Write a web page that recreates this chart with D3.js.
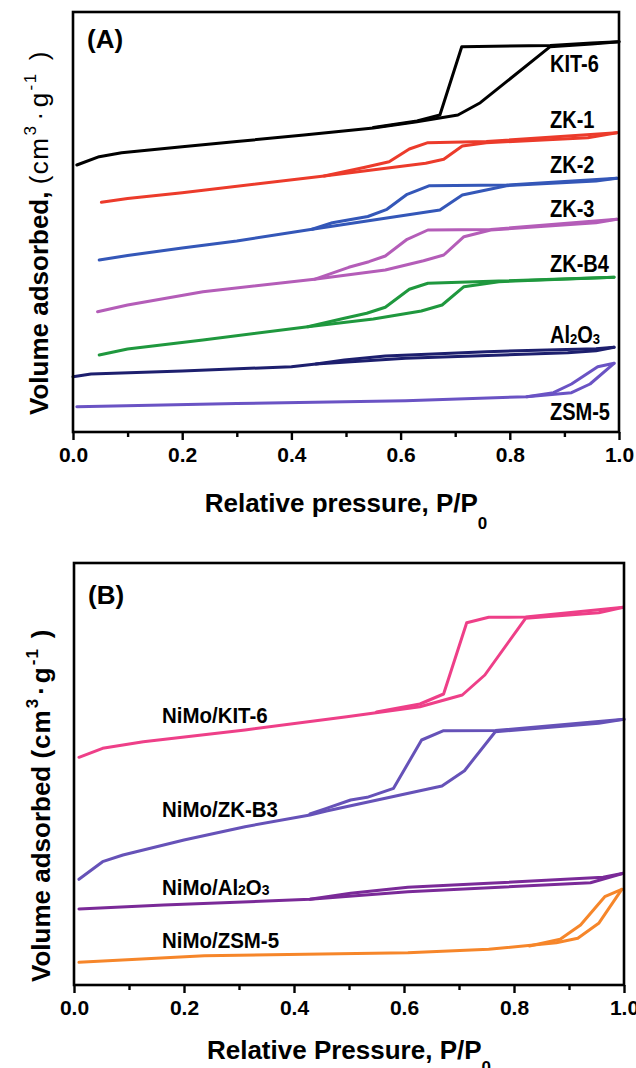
<!DOCTYPE html>
<html><head><meta charset="utf-8">
<script src="https://cdn.jsdelivr.net/npm/d3@7"></script>
<style>
html,body{margin:0;padding:0;background:#fff;}
svg text{font-family:"Liberation Sans",Arial,sans-serif;font-weight:bold;fill:#000;}
</style>
</head><body>
<svg id="chart" width="636" height="1068"></svg>
<script>
// ---------- data (relative pressure P/P0, adsorbed volume in arbitrary units) ----------
const xTicks = [0.0, 0.2, 0.4, 0.6, 0.8, 1.0];
const xMinorTicks = [0.1, 0.3, 0.5, 0.7, 0.9];

// Panel A
const kit6Ads = [[0.007,267],[0.048,275.3],[0.089,279.3],[0.2,285.2],[0.3,290.5],[0.423,297],[0.55,304],[0.63,310.3],[0.705,317],[0.746,329.3],[0.874,385.3],[0.95,388],[1.0,390.3]];
const kit6Des = [[1.0,390.3],[0.95,389],[0.874,386.5],[0.712,385.3],[0.672,317],[0.63,311],[0.55,304.5]];
const zk1Ads = [[0.052,229.7],[0.1,233.5],[0.2,239.2],[0.46,256],[0.646,268.7],[0.679,272.7],[0.713,286],[0.757,289.3],[0.943,294.3],[0.996,299.3]];
const zk1Des = [[0.996,299.3],[0.757,290.5],[0.65,289.3],[0.616,283],[0.579,270.3],[0.535,264.7],[0.46,256]];
const zk2Ads = [[0.048,172],[0.1,176.5],[0.2,184],[0.3,191],[0.438,202.7],[0.672,222],[0.713,237],[0.794,246.3],[0.958,251],[0.996,253.7]];
const zk2Des = [[0.996,253.7],[0.794,247],[0.653,246.3],[0.612,237.7],[0.575,222.7],[0.54,215.5],[0.475,209.3],[0.438,202.7]];
const zk3Ads = [[0.045,120.3],[0.1,127],[0.238,140.3],[0.442,152.7],[0.572,162],[0.642,171.3],[0.679,177],[0.716,195.3],[0.765,202],[0.958,209.3],[0.996,212.7]];
const zk3Des = [[0.996,212.7],[0.765,202.5],[0.65,202],[0.612,192.7],[0.572,176],[0.542,170.3],[0.505,164.7],[0.442,152.7]];
const zkb4Ads = [[0.048,77],[0.1,83],[0.238,92],[0.43,105.3],[0.55,113],[0.638,121],[0.676,127],[0.716,145.3],[0.78,150.3],[0.991,154.7]];
const zkb4Des = [[0.991,154.7],[0.78,151],[0.65,148.7],[0.616,142.7],[0.572,124.7],[0.538,118.7],[0.497,113.7],[0.43,105.3]];
const al2o3Ads = [[0,55.3],[0.033,58],[0.2,61],[0.4,65.3],[0.445,68],[0.609,73.7],[0.906,79.3],[0.958,81.3],[0.991,84.7]];
const al2o3Des = [[0.991,84.7],[0.958,83.3],[0.757,80.3],[0.572,76],[0.497,72],[0.445,68]];
const zsm5Ads = [[0.007,25.3],[0.3,28.5],[0.609,31.3],[0.831,35.3],[0.913,39.3],[0.947,48],[0.991,68.7]];
const zsm5Des = [[0.991,68.7],[0.961,65.3],[0.913,48],[0.88,39.3],[0.831,35.3]];

// Panel B
const nKitAds = [[0.009,227.7],[0.052,236.7],[0.126,243.3],[0.311,255],[0.496,268.3],[0.629,278.3],[0.706,290],[0.747,310],[0.821,366.7],[0.954,372.3],[0.999,377.7]];
const nKitDes = [[0.999,377.7],[0.821,368],[0.754,367.7],[0.714,362.3],[0.672,291],[0.629,281],[0.55,273]];
const nZkAds = [[0.009,105.7],[0.052,123.3],[0.089,130],[0.2,145],[0.311,158.3],[0.429,170],[0.459,174],[0.669,199],[0.71,214.3],[0.766,253.3],[0.954,261.7],[1.0,265.7]];
const nZkDes = [[1.0,265.7],[0.766,254.5],[0.672,254.3],[0.632,245],[0.581,196.7],[0.533,187.7],[0.503,185],[0.459,176.7],[0.429,171]];
const nAlAds = [[0.009,76],[0.163,80],[0.429,85.7],[0.607,93.3],[0.939,102.3],[0.999,111.7]];
const nAlDes = [[0.999,111.7],[0.962,107.7],[0.754,101.7],[0.607,97.7],[0.503,91.7],[0.429,85.7]];
const nZsmAds = [[0.009,22.7],[0.237,29.3],[0.607,32.3],[0.754,35.7],[0.877,42.3],[0.916,46.7],[0.954,61.7],[0.996,95.7]];
const nZsmDes = [[0.996,95.7],[0.965,88.3],[0.921,60],[0.884,45.7],[0.828,39]];

const namesA = ["KIT-6","ZK-1","ZK-2","ZK-3","ZK-B4","Al2O3","ZSM-5"];
const colorsA = ["#000000","#ec3b2b","#3457b8","#b45db8","#1f983e","#1d1f6e","#6a53c4"];
const namesB = ["NiMo/KIT-6","NiMo/ZK-B3","NiMo/Al2O3","NiMo/ZSM-5"];
const colorsB = ["#ee3f88","#6652b8","#7a2a98","#f6862a"];

// ---------- drawing ----------
const svg = d3.select("#chart");
svg.append("rect").attr("width",636).attr("height",1068).attr("fill","#fff");

function panel(cfg){
  const x = d3.scaleLinear().domain([0,1]).range([cfg.left, cfg.right]);
  const y = d3.scaleLinear().domain([0, cfg.ymax]).range([cfg.bottom, cfg.top]);
  const g = svg.append("g");
  const line = d3.line().x(d=>x(d[0])).y(d=>y(d[1]));
  cfg.series.forEach((s,i)=>{
    [s.ads, s.des].forEach(arr=>{
      g.append("path").attr("d", line(arr)).attr("fill","none")
        .attr("stroke", cfg.colors[i]).attr("stroke-width", 3)
        .attr("stroke-linejoin","round").attr("stroke-linecap","round");
    });
  });
  g.append("rect").attr("x",cfg.left).attr("y",cfg.top)
    .attr("width",cfg.right-cfg.left).attr("height",cfg.bottom-cfg.top)
    .attr("fill","none").attr("stroke","#000").attr("stroke-width",2.6);
  const ax = g.append("g").attr("transform",`translate(0,${cfg.bottom})`)
    .call(d3.axisBottom(x).tickValues(xTicks).tickSize(8).tickFormat(d3.format(".1f")));
  ax.select(".domain").remove();
  ax.selectAll(".tick line").attr("stroke","#000").attr("stroke-width",2.4);
  ax.selectAll(".tick text").attr("y",24).attr("dy",0).attr("dominant-baseline","middle")
    .style("font-size","21px");
  const axm = g.append("g").attr("transform",`translate(0,${cfg.bottom})`)
    .call(d3.axisBottom(x).tickValues(xMinorTicks).tickSize(5).tickFormat(""));
  axm.select(".domain").remove();
  axm.selectAll(".tick line").attr("stroke","#000").attr("stroke-width",2.4);
  return {x,y,g};
}

function chemText(sel, parts, subSize){
  parts.forEach(p=>{
    const t = sel.append("tspan").text(p.t);
    if(p.sub){ t.style("font-size",subSize+"px").attr("dy", p.dy||0); }
    else if(p.dy){ t.attr("dy", p.dy); }
  });
}

// Panel A
const A = panel({left:73,right:619,top:12,bottom:432,ymax:420,colors:colorsA,series:[
  {ads:kit6Ads,des:kit6Des},{ads:zk1Ads,des:zk1Des},{ads:zk2Ads,des:zk2Des},{ads:zk3Ads,des:zk3Des},
  {ads:zkb4Ads,des:zkb4Des},{ads:al2o3Ads,des:al2o3Des},{ads:zsm5Ads,des:zsm5Des}]});

const labelYA = [72,128,173,217,272,343,420];
namesA.forEach((n,i)=>{
  const t = A.g.append("text").attr("x",550).attr("y",labelYA[i]).style("font-size","23px");
  if(n==="Al2O3"){
    chemText(t,[{t:"Al"},{t:"2",sub:true,dy:1},{t:"O",dy:-1},{t:"3",sub:true,dy:1}],15);
  } else t.text(n);
  t.attr("transform",`translate(550,${labelYA[i]}) scale(0.87,1) translate(-550,${-labelYA[i]})`);
});
A.g.append("text").attr("x",87).attr("y",48).style("font-size","26px").text("(A)");

const xtA = svg.append("text").attr("x",346).attr("y",512).attr("text-anchor","middle").style("font-size","26px");
xtA.append("tspan").text("Relative pressure, P/P");
xtA.append("tspan").text("0").style("font-size","17px").attr("dy",17);

const ytA = svg.append("text").attr("transform","translate(48,415) rotate(-90)").attr("text-anchor","start").style("font-size","26px");
ytA.append("tspan").text("Volume adsorbed, ");
const uA = [["(cm",0,0,false],["3",-12,1,true],["\u00B7",12,4,false],["g",0,3,false],["-1",-12,1,true],[")",12,12,false]];
uA.forEach(u=>{
  const t = ytA.append("tspan").text(u[0]).style("font-weight","normal").attr("dy",u[1]).attr("dx",u[2])
    .style("letter-spacing","1.5px");
  if(u[3]) t.style("font-size","17px");
});

// Panel B
const B = panel({left:74,right:624,top:563,bottom:985,ymax:422,colors:colorsB,series:[
  {ads:nKitAds,des:nKitDes},{ads:nZkAds,des:nZkDes},{ads:nAlAds,des:nAlDes},{ads:nZsmAds,des:nZsmDes}]});

const labelYB = [723,817,895,948];
namesB.forEach((n,i)=>{
  const t = B.g.append("text").attr("x",162).attr("y",labelYB[i]).style("font-size","22px");
  if(n==="NiMo/Al2O3"){
    chemText(t,[{t:"NiMo/Al"},{t:"2",sub:true,dy:0},{t:"O",dy:0},{t:"3",sub:true,dy:0}],15);
  } else t.text(n);
  t.attr("transform",`translate(162,${labelYB[i]}) scale(0.93,1) translate(-162,${-labelYB[i]})`);
});
B.g.append("text").attr("x",88).attr("y",604).style("font-size","26px").text("(B)");

const xtB = svg.append("text").attr("x",349).attr("y",1059).attr("text-anchor","middle").style("font-size","26px");
xtB.append("tspan").text("Relative Pressure, P/P");
xtB.append("tspan").text("0").style("font-size","17px").attr("dy",14);

const ytB = svg.append("text").attr("transform","translate(50,982) rotate(-90)").attr("text-anchor","start").style("font-size","26px");
ytB.append("tspan").text("Volume adsorbed ");
const uB = [["(cm",0,0,false],["3",-12,1,true],["\u00B7",12,3,false],["g",0,2,false],["-1",-12,1,true],[")",12,10,false]];
uB.forEach(u=>{
  const t = ytB.append("tspan").text(u[0]).attr("dy",u[1]).attr("dx",u[2]).style("letter-spacing","1px");
  if(u[3]) t.style("font-size","17px");
});
</script>
</body></html>
